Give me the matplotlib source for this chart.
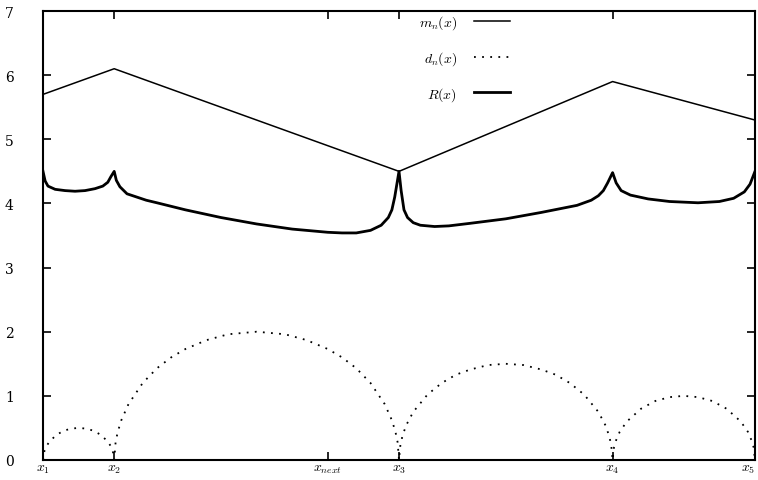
import matplotlib
matplotlib.use("Agg")
import matplotlib.pyplot as plt

plt.rcParams['font.family'] = ['DejaVu Serif']
plt.rcParams['mathtext.fontset'] = 'cm'

# node positions (x1, x2, x_next, x3, x4, x5)
tick_pos = [0.0, 0.1, 0.4, 0.5, 0.8, 1.0]
tick_lab = ['$x_1$', '$x_2$', '$x_{next}$', '$x_3$', '$x_4$', '$x_5$']

# m_n(x): piecewise linear through the nodes
m_x = [0.0, 0.1, 0.5, 0.8, 1.0]
m_y = [5.7, 6.1, 4.5, 5.9, 5.3]

# d_n(x): arcs between nodes
d_x = [0.0, 0.002, 0.005, 0.01, 0.02, 0.03, 0.04, 0.05, 0.06, 0.07, 0.08, 0.09, 0.095, 0.098, 0.1,
       0.102, 0.105, 0.11, 0.12, 0.14, 0.16, 0.18, 0.2, 0.23, 0.26, 0.3, 0.34, 0.37, 0.4, 0.42,
       0.44, 0.46, 0.48, 0.49, 0.495, 0.498, 0.5,
       0.502, 0.505, 0.51, 0.52, 0.54, 0.56, 0.58, 0.6, 0.625, 0.65, 0.675, 0.7, 0.72, 0.74,
       0.76, 0.78, 0.79, 0.795, 0.798, 0.8,
       0.802, 0.805, 0.81, 0.82, 0.84, 0.86, 0.88, 0.9, 0.92, 0.94, 0.96, 0.98, 0.99, 0.995,
       0.998, 1.0]
d_y = [0.0, 0.14, 0.22, 0.30, 0.40, 0.46, 0.49, 0.50, 0.49, 0.46, 0.40, 0.30, 0.22, 0.14, 0.0,
       0.28, 0.44, 0.62, 0.87, 1.2, 1.43, 1.6, 1.73, 1.87, 1.96, 2.0, 1.96, 1.87, 1.73, 1.6,
       1.43, 1.2, 0.87, 0.62, 0.44, 0.28, 0.0,
       0.24, 0.38, 0.54, 0.75, 1.02, 1.2, 1.33, 1.41, 1.48, 1.5, 1.48, 1.41, 1.33, 1.2,
       1.02, 0.75, 0.54, 0.38, 0.24, 0.0,
       0.2, 0.31, 0.44, 0.6, 0.8, 0.92, 0.98, 1.0, 0.98, 0.92, 0.8, 0.6, 0.44, 0.31,
       0.2, 0.0]

# R(x)
r_x = [0.0, 0.003, 0.007, 0.017, 0.031, 0.045, 0.059, 0.073, 0.084, 0.091, 0.0955, 0.1,
       0.103, 0.108, 0.118, 0.145, 0.16, 0.2, 0.25, 0.3, 0.35, 0.4, 0.42, 0.44, 0.46, 0.475,
       0.485, 0.49, 0.494, 0.497, 0.5,
       0.503, 0.507, 0.512, 0.52, 0.53, 0.55, 0.57, 0.6, 0.65, 0.7, 0.75, 0.77, 0.78, 0.787,
       0.793, 0.8,
       0.805, 0.812, 0.825, 0.85, 0.88, 0.92, 0.95, 0.97, 0.985, 0.993, 1.0]
r_y = [4.5, 4.35, 4.27, 4.22, 4.2, 4.19, 4.2, 4.23, 4.27, 4.33, 4.42, 4.5,
       4.36, 4.26, 4.15, 4.05, 4.01, 3.9, 3.78, 3.68, 3.6, 3.55, 3.54, 3.54, 3.58, 3.66,
       3.78, 3.9, 4.1, 4.3, 4.5,
       4.2, 3.9, 3.78, 3.7, 3.66, 3.64, 3.65, 3.69, 3.76, 3.86, 3.97, 4.05, 4.12, 4.2,
       4.32, 4.48,
       4.32, 4.2, 4.13, 4.07, 4.03, 4.01, 4.03, 4.08, 4.18, 4.3, 4.5]

fig = plt.figure(figsize=(7.58, 4.81), dpi=100)
ax = fig.add_axes([43 / 758, 20 / 481, 712 / 758, 449 / 481])

ax.plot(m_x, m_y, color='black', lw=1.1, label='$m_n(x)$')
ax.plot(d_x, d_y, color='black', lw=1.3, ls=(0, (1, 3.5)), label='$d_n(x)$')
ax.plot(r_x, r_y, color='black', lw=2.0, label='$R(x)$')

ax.set_xlim(0, 1)
ax.set_ylim(0, 7)
ax.set_xticks(tick_pos)
ax.set_xticklabels(tick_lab, fontsize=12)
ax.set_yticks(range(8))
ax.tick_params(axis='both', direction='in', length=6, width=1.2, top=True, right=True,
               labelsize=10)
ax.tick_params(axis='x', pad=1)
ax.tick_params(axis='y', pad=21)
# last x label would run off the right edge
ax.get_xticklabels()[-1].set_horizontalalignment('right')
for s in ax.spines.values():
    s.set_linewidth(1.5)

ax.legend(loc='upper right', bbox_to_anchor=(0.656, 0.995), frameon=False,
          markerfirst=False, fontsize=10, handlelength=2.6, labelspacing=1.3,
          borderpad=0, borderaxespad=0, handletextpad=1.2)

fig.savefig('out.png', dpi=100)
